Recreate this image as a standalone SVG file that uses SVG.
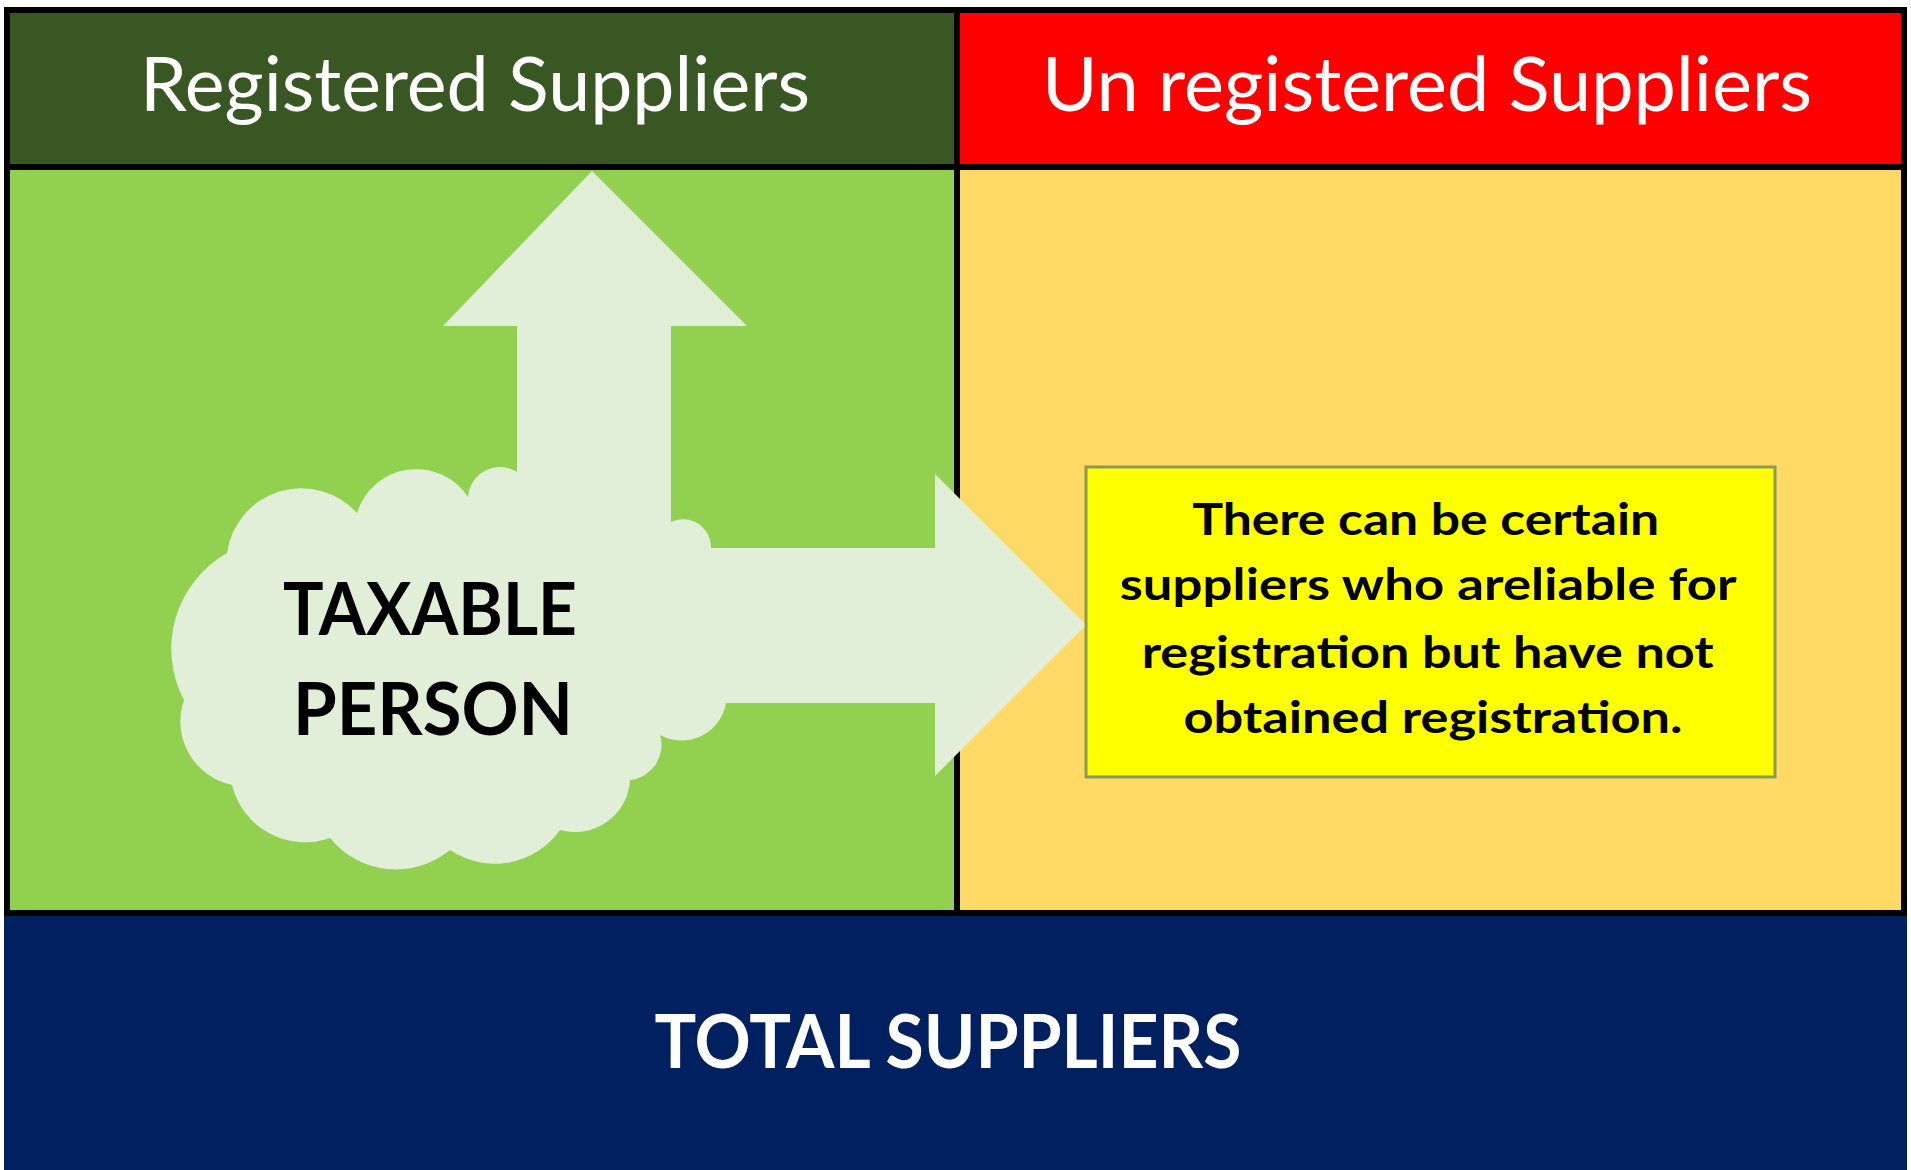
<svg xmlns="http://www.w3.org/2000/svg" width="1911" height="1170" viewBox="0 0 1911 1170">
<style>
.frame{stroke:#000;stroke-width:6}
.hdr{font-family:Lato,"Liberation Sans",sans-serif;font-size:75px;fill:#fff;text-anchor:middle}
.bold{font-family:Lato,"Liberation Sans",sans-serif;font-weight:bold;text-anchor:middle}
.pale{fill:#E1EED8}
</style>
<rect width="1911" height="1170" fill="#fff"/>
<g id="total">
<rect x="4" y="914" width="1903" height="256" fill="#002060"/>
<text class="bold" x="948" y="1068" font-size="74" fill="#fff" textLength="587" lengthAdjust="spacingAndGlyphs">TOTAL SUPPLIERS</text>
</g>
<g id="registered">
<rect class="frame" x="7" y="167" width="950" height="746" fill="#92D050"/>
<rect class="frame" x="7" y="10" width="950" height="157" fill="#385723"/>
<text class="hdr" x="475" y="111" textLength="670" lengthAdjust="spacingAndGlyphs">Registered Suppliers</text>
</g>
<g id="unregistered">
<rect class="frame" x="957" y="167" width="947" height="746" fill="#FFD966"/>
<rect class="frame" x="957" y="10" width="947" height="157" fill="#FF0000"/>
<text class="hdr" x="1427" y="111" textLength="770" lengthAdjust="spacingAndGlyphs">Un registered Suppliers</text>
</g>
<g id="taxable-person">
<path class="pale" d="M517 472 A32 32 0 0 0 468 497 A62 62 0 0 0 357 513 A75 75 0 0 0 227 553 A110 110 0 0 0 184 700 A65 65 0 0 0 232 785 A75 75 0 0 0 330 838 A85 85 0 0 0 450 850 A80 80 0 0 0 560 830 A55 55 0 0 0 630 780 A35 35 0 0 0 660 735 A45 45 0 0 0 726 703 L711 548 A28 28 0 0 0 671 522 L671 470 Z"/>
</g>
<g id="connectors">
<polygon class="pale" points="517,560 517,326 443,326 592,171 747,326 671,326 671,560"/>
<polygon class="pale" points="600,548 935,548 935,474 1086,625 935,776 935,703 600,703"/>
</g>
<g id="taxable-label">
<text class="bold" x="430" y="635" font-size="72" fill="#000" textLength="294" lengthAdjust="spacingAndGlyphs">TAXABLE</text>
<text class="bold" x="433" y="735" font-size="72" fill="#000" textLength="280" lengthAdjust="spacingAndGlyphs">PERSON</text>
</g>
<g id="note">
<rect x="1086" y="467" width="689" height="310" fill="#FFFF00" stroke="#8C9A55" stroke-width="3"/>
<text class="bold" font-size="44" fill="#000">
<tspan x="1431" y="535" textLength="467" lengthAdjust="spacingAndGlyphs">There can be certain</tspan>
<tspan x="1433" y="600" textLength="616" lengthAdjust="spacingAndGlyphs">suppliers who areliable for</tspan>
<tspan x="1433" y="668" textLength="572" lengthAdjust="spacingAndGlyphs">registration but  have not</tspan>
<tspan x="1433" y="733" textLength="499" lengthAdjust="spacingAndGlyphs">obtained registration.</tspan>
</text>
</g>
</svg>
